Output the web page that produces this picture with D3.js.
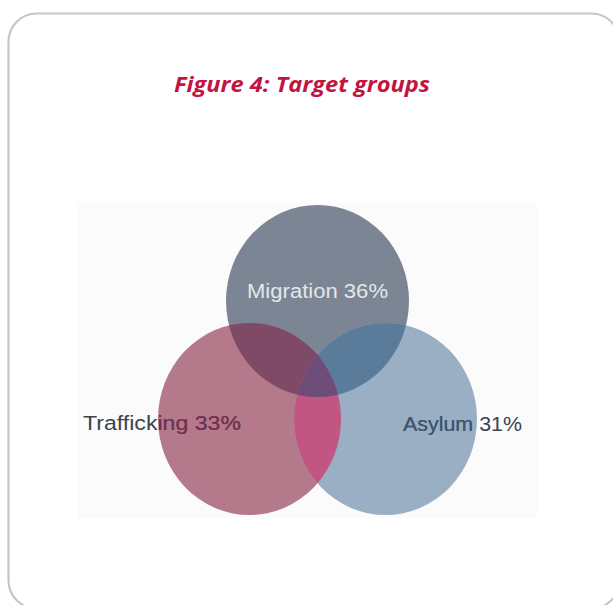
<!DOCTYPE html>
<html><head><meta charset="utf-8">
<script src="https://cdn.jsdelivr.net/npm/d3@7"></script>
<style>html,body{margin:0;padding:0;background:#fff;}svg{display:block;}</style>
</head><body>
<script>
const title = "Figure 4: Target groups";
const groups = ["Migration", "Trafficking", "Asylum"];
const shares = [36, 33, 31];
const baseColors = ["#7b8594", "#b47a8c", "#9aafc3"];
const textColors = ["#e3e8ec", "#3b4350", "#3b4350"];
const innerTextColors = ["#e3e8ec", "#7a2f50", "#3e5876"];

const W = 613, H = 605;
const svg = d3.select("body").append("svg").attr("width", W).attr("height", H);

// frame
svg.append("rect").attr("x", 8.5).attr("y", 13.5).attr("width", 611).attr("height", 595)
  .attr("rx", 28).attr("fill", "#fff").attr("stroke", "#c6c6c6").attr("stroke-width", 2.2);

svg.append("text").attr("x", 302).attr("y", 92).attr("text-anchor", "middle")
  .attr("font-family", "'Open Sans', sans-serif").attr("font-weight", 700).attr("font-style", "italic")
  .attr("font-size", 21).attr("fill", "#c3143f")
  .attr("textLength", 256).attr("lengthAdjust", "spacingAndGlyphs").text(title);

// faint image background
svg.append("rect").attr("x", 78).attr("y", 203).attr("width", 459).attr("height", 315).attr("fill", "#fbfbfb");

// layout: ellipse centres via scales
const x = d3.scaleLinear().domain([-1, 1]).range([249.5, 385.5]);
const y = d3.scaleLinear().domain([0, 1]).range([301, 419]);
const layout = [{cx: x(0), cy: y(0)}, {cx: x(-1), cy: y(1)}, {cx: x(1), cy: y(1)}];
const rx = 91.5, ry = 96;

const defs = svg.append("defs");
groups.forEach((g, i) => {
  defs.append("clipPath").attr("id", "c" + i).append("ellipse")
    .attr("cx", layout[i].cx).attr("cy", layout[i].cy).attr("rx", rx).attr("ry", ry);
});

const venn = svg.append("g");
groups.forEach((g, i) => {
  venn.append("ellipse").attr("cx", layout[i].cx).attr("cy", layout[i].cy)
    .attr("rx", rx).attr("ry", ry).attr("fill", baseColors[i]);
});
// intersections
const pairs = [[0, 1, "#7e4a66"], [0, 2, "#5a7c9a"], [1, 2, "#c05681"]];
pairs.forEach(([a, b, col]) => {
  venn.append("g").attr("clip-path", `url(#c${a})`)
    .append("ellipse").attr("cx", layout[b].cx).attr("cy", layout[b].cy)
    .attr("rx", rx).attr("ry", ry).attr("fill", col);
});
venn.append("g").attr("clip-path", "url(#c0)")
  .append("g").attr("clip-path", "url(#c1)")
  .append("ellipse").attr("cx", layout[2].cx).attr("cy", layout[2].cy)
  .attr("rx", rx).attr("ry", ry).attr("fill", "#6e4e78");

// labels
const labelPos = [
  {x: 317.5, y: 298, len: 141},
  {x: 162, y: 430, len: 158},
  {x: 462.5, y: 431, len: 119}
];
groups.forEach((g, i) => {
  const lbl = `${g} ${shares[i]}%`;
  const mk = (sel, col) => sel.append("text").attr("x", labelPos[i].x).attr("y", labelPos[i].y)
    .attr("text-anchor", "middle").attr("font-family", "'Liberation Sans', Arial, sans-serif")
    .attr("font-size", 20).attr("fill", col)
    .attr("textLength", labelPos[i].len).attr("lengthAdjust", "spacingAndGlyphs").text(lbl);
  mk(svg, textColors[i]);
  if (i > 0) mk(svg.append("g").attr("clip-path", `url(#c${i})`), innerTextColors[i]);
});
</script>
</body></html>
